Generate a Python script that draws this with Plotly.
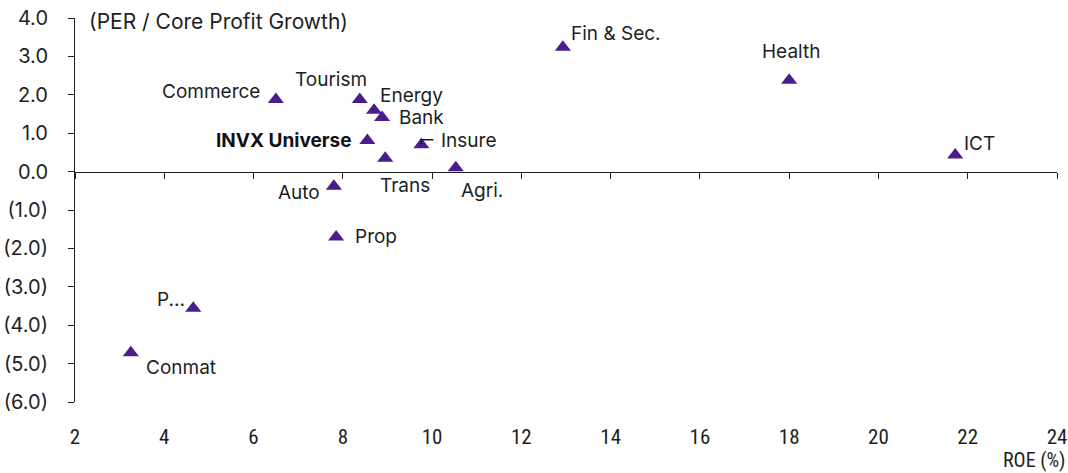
import plotly.graph_objects as go

# ---- data ----
sectors = ["Fin & Sec.", "Health", "ICT", "Commerce", "Tourism", "Energy", "Bank",
           "INVX Universe", "Insure", "Trans", "Agri.", "Auto", "Prop", "P...", "Conmat"]
roe = [12.93, 18.0, 21.72, 6.5, 8.38, 8.7, 8.88, 8.55, 9.76, 8.95, 10.53, 7.8, 7.85, 4.65, 3.25]
per_growth = [3.24, 2.38, 0.43, 1.88, 1.88, 1.6, 1.41, 0.81, 0.70, 0.35, 0.10, -0.38, -1.70, -3.56, -4.72]

y_ticks = [4, 3, 2, 1, 0, -1, -2, -3, -4, -5, -6]
y_tick_text = ["4.0", "3.0", "2.0", "1.0", "0.0", "(1.0)", "(2.0)", "(3.0)", "(4.0)", "(5.0)", "(6.0)"]
x_ticks = [2, 4, 6, 8, 10, 12, 14, 16, 18, 20, 22, 24]

# label placement (pixel offsets from the marker, anchor)
label_pos = {
    "Fin & Sec.": (6, 14, "left"),
    "Health": (2, 29, "center"),
    "ICT": (7, 12, "left"),
    "Commerce": (-14, 8, "right"),
    "Tourism": (-29, 20, "center"),
    "Energy": (4, 15, "left"),
    "Bank": (15, 0, "left"),
    "INVX Universe": (-14, 0, "right"),
    "Insure": (18, 4, "left"),
    "Trans": (20, -27, "center"),
    "Agri.": (3, -23, "left"),
    "Auto": (-12, -6, "right"),
    "Prop": (17, 0, "left"),
    "P...": (-6, 9, "right"),
    "Conmat": (13, -15, "left"),
}

PURPLE = "#4b1c8c"
FONT = "Inter, Roboto, sans-serif"
NARROW = "Liberation Sans Narrow, Roboto Condensed, sans-serif"
TXT = "#1e1e1e"

fig = go.Figure()
fig.add_trace(go.Scatter(
    x=roe, y=per_growth, mode="markers",
    marker=dict(symbol="triangle-up", size=14, color=PURPLE, line=dict(width=0)),
    hoverinfo="text", text=sectors, showlegend=False,
))

for name, xv, yv in zip(sectors, roe, per_growth):
    dx, dy, anchor = label_pos[name]
    label = f"<b>{name}</b>" if name == "INVX Universe" else name
    fig.add_annotation(
        x=xv, y=yv, text=label, showarrow=False,
        xanchor=anchor, yanchor="middle", xshift=dx, yshift=dy,
        font=dict(family=FONT, size=19, color=TXT if name != "INVX Universe" else "#111111"),
    )

# leader for Insure
ix, iy = roe[sectors.index("Insure")], per_growth[sectors.index("Insure")]
for (x0, x1, y0, y1) in [(0, 12, 5, 5), (0, 0, 1, 5)]:
    fig.add_shape(type="line", xref="x", yref="y", xsizemode="pixel", ysizemode="pixel",
                  xanchor=ix, yanchor=iy, x0=x0, x1=x1, y0=y0, y1=y1,
                  line=dict(color="#111111", width=1.5))

fig.add_annotation(
    xref="paper", yref="paper", x=0.012, y=0.99, xanchor="left", yanchor="middle",
    text="(PER / Core Profit Growth)", showarrow=False,
    font=dict(family=FONT, size=21, color=TXT),
)
fig.add_annotation(
    xref="paper", yref="paper", x=1.0105, y=-0.15, xanchor="right", yanchor="middle",
    text="ROE (%)", showarrow=False,
    font=dict(family=NARROW, size=20, color=TXT),
)

fig.update_layout(
    width=1068, height=473,
    margin=dict(l=75, r=11, t=18, b=71),
    paper_bgcolor="white", plot_bgcolor="white",
    xaxis=dict(
        range=[2, 24], tickvals=x_ticks, showline=False, showgrid=False, zeroline=False,
        ticks="", ticklabelstandoff=20, automargin=False,
        tickfont=dict(family=NARROW, size=21, color=TXT),
    ),
    xaxis2=dict(
        range=[2, 24], tickvals=x_ticks, overlaying="x", anchor="free", position=0.6,
        showline=True, linecolor="#222222", linewidth=1, ticks="outside", ticklen=6,
        tickcolor="#222222", showticklabels=False, showgrid=False, zeroline=False,
        automargin=False,
    ),
    yaxis=dict(
        range=[-6, 4], tickvals=y_ticks, ticktext=y_tick_text, showline=True,
        linecolor="#222222", linewidth=1, ticks="outside", ticklen=6, tickcolor="#222222",
        showgrid=False, zeroline=False, ticklabelstandoff=16, automargin=False,
        tickfont=dict(family=FONT, size=20, color=TXT),
    ),
)
# dummy trace to activate xaxis2
fig.add_trace(go.Scatter(x=[None], y=[None], xaxis="x2", showlegend=False, hoverinfo="skip"))

fig.write_html("out.html")
